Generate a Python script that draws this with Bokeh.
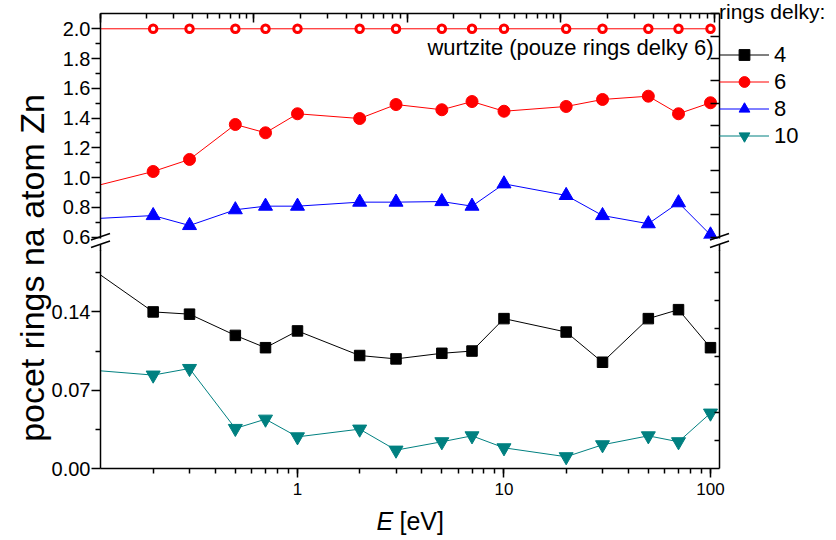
import math
from bokeh.plotting import figure
from bokeh.models import (Range1d, LogScale, LinearAxis, LogAxis, LogTicker, FixedTicker,
                          NumeralTickFormatter, CustomJSTickFormatter, Legend, LegendItem, Label)
from bokeh.layouts import row, column
from bokeh.embed import file_html
from bokeh.resources import INLINE

# ---------------- data ----------------
energy = [0.1, 0.2, 0.3, 0.5, 0.7, 1, 2, 3, 5, 7, 10, 20, 30, 50, 70, 100]
rings4 = [0.179, 0.140, 0.138, 0.119, 0.108, 0.123, 0.101, 0.098, 0.103, 0.105,
          0.134, 0.122, 0.095, 0.134, 0.142, 0.108]
rings6 = [0.936, 1.041, 1.122, 1.357, 1.301, 1.429, 1.397, 1.491, 1.456, 1.511,
          1.446, 1.478, 1.525, 1.547, 1.429, 1.503]
rings8 = [0.723, 0.745, 0.678, 0.784, 0.808, 0.808, 0.835, 0.835, 0.839, 0.808,
          0.958, 0.880, 0.745, 0.690, 0.831, 0.615]
rings10 = [0.088, 0.0835, 0.0894, 0.0358, 0.0441, 0.0283, 0.0352, 0.0164, 0.0239, 0.0292,
           0.0185, 0.0105, 0.0212, 0.0292, 0.0239, 0.0495]
wurtzite = [2.0, 2.0, 2.0, 2.0, 2.0, 2.0, 2.0, 2.0, 2.0, 2.0, 2.0, 2.0, 2.0, 2.0, 2.0, 2.0]

top_ticks = [0.6, 0.8, 1.0, 1.2, 1.4, 1.6, 1.8, 2.0]
top_minor = [0.7, 0.9, 1.1, 1.3, 1.5, 1.7, 1.9]
bot_ticks = [0.0, 0.07, 0.14]
bot_minor = [0.035, 0.105, 0.175]
right_top_ticks = [0.6, 0.75, 0.9, 1.05, 1.2, 1.35, 1.5, 1.65, 1.8, 1.95, 2.1]
right_bot_ticks = [0.025, 0.05, 0.075, 0.1, 0.125, 0.15, 0.175]

FONT = "Liberation Sans"
X_RANGE = (10 ** -0.954, 10 ** 2.0436)
TOP_Y = (0.5907, 2.1028)
BOT_Y = (0.0, 0.1949)
TOP_AX_RANGE = (1.0, 10 ** 4.0326)

W, H = 836, 540
FW = 619          # frame width  (page x 100..719)
TOP_FH = 225      # top frame    (page y 13..238)
BOT_FH = 218      # bottom frame (page y 250..468)
LEFT_B = 100
RIGHT_B = W - LEFT_B - FW
LEG_W, LEG_H = 117, 160

LOG0, LOG1 = math.log10(X_RANGE[0]), math.log10(X_RANGE[1])


def px2x(px):      # page px -> data x
    return 10 ** (LOG0 + (px - 100) / FW * (LOG1 - LOG0))


def py2top(py):    # page py -> top panel value
    return TOP_Y[1] - (py - 13) / TOP_FH * (TOP_Y[1] - TOP_Y[0])


blank = CustomJSTickFormatter(code="return ''")


def style_axis(ax, tout=0, mout=0, tin=0, min_=0, labels=True, size="20px"):
    ax.axis_line_color = "black"
    ax.axis_line_width = 1.5
    ax.major_tick_line_color = "black"
    ax.major_tick_line_width = 1.5
    ax.minor_tick_line_color = "black"
    ax.minor_tick_line_width = 1.5
    ax.major_tick_out = tout
    ax.minor_tick_out = mout
    ax.major_tick_in = tin
    ax.minor_tick_in = min_
    ax.major_label_text_color = "black"
    ax.major_label_text_font = FONT
    if labels:
        ax.major_label_text_font_size = size
    else:
        ax.major_label_text_font_size = "1px"
        ax.major_label_standoff = 0


def make_fig(yr, fh, top_b, bot_b):
    p = figure(frame_width=FW, frame_height=fh, x_axis_type=None, y_axis_type=None,
               x_range=Range1d(*X_RANGE), y_range=Range1d(*yr),
               toolbar_location=None, output_backend="svg",
               min_border_left=LEFT_B, min_border_right=RIGHT_B,
               min_border_top=top_b, min_border_bottom=bot_b,
               outline_line_color=None, background_fill_color="white",
               border_fill_color="white")
    p.x_scale = LogScale()
    return p


def overlay_fig(width, height, x0, x1, y_top, y_bot):
    """transparent figure laid over the page; data coordinates equal page pixels"""
    p = figure(frame_width=width, frame_height=height, x_axis_type=None, y_axis_type=None,
               x_range=Range1d(x0, x1), y_range=Range1d(y_bot, y_top),
               toolbar_location=None, output_backend="svg", min_border=0,
               outline_line_color=None)
    p.background_fill_alpha = 0
    p.border_fill_alpha = 0
    return p


# ---------------- top panel ----------------
pt = make_fig(TOP_Y, TOP_FH, 13, 12)
pt.extra_x_ranges = {"top": Range1d(*TOP_AX_RANGE)}
pt.extra_x_scales = {"top": LogScale()}

ax = LinearAxis(ticker=FixedTicker(ticks=top_ticks, minor_ticks=top_minor),
                formatter=NumeralTickFormatter(format="0.0"))
style_axis(ax, tout=9, mout=5)
ax.major_label_standoff = 1
pt.add_layout(ax, "left")

ax = LinearAxis(ticker=FixedTicker(ticks=right_top_ticks, minor_ticks=[]), formatter=blank)
style_axis(ax, tin=9, labels=False)
pt.add_layout(ax, "right")

ax = LogAxis(x_range_name="top", ticker=LogTicker(num_minor_ticks=10), formatter=blank)
style_axis(ax, tin=9, min_=5, labels=False)
pt.add_layout(ax, "above")

pt.line(energy, wurtzite, line_color="red", line_width=1)
pt.scatter(energy, wurtzite, marker="circle", size=7.5, fill_color="white",
           line_color="red", line_width=3)
pt.line(energy, rings6, line_color="red", line_width=1)
pt.scatter(energy, rings6, marker="circle", size=12, fill_color="red", line_color="red")
pt.line(energy, rings8, line_color="blue", line_width=1)
pt.scatter(energy, rings8, marker="triangle", size=14, fill_color="blue", line_color="blue")

pt.add_layout(Label(x=px2x(713), y=py2top(46.5), text="wurtzite (pouze rings delky 6)",
                    text_align="right", text_baseline="alphabetic",
                    text_font=FONT, text_font_size="22px", text_color="black"))

# ---------------- bottom panel ----------------
pb = make_fig(BOT_Y, BOT_FH, 0, 34)

ax = LinearAxis(ticker=FixedTicker(ticks=bot_ticks, minor_ticks=bot_minor),
                formatter=NumeralTickFormatter(format="0.00"))
style_axis(ax, tout=9, mout=5)
ax.major_label_standoff = 1
pb.add_layout(ax, "left")

ax = LinearAxis(ticker=FixedTicker(ticks=right_bot_ticks, minor_ticks=[]), formatter=blank)
style_axis(ax, tin=5, labels=False)
pb.add_layout(ax, "right")

ax = LogAxis(ticker=LogTicker(num_minor_ticks=10), formatter=NumeralTickFormatter(format="0"))
style_axis(ax, tout=9, mout=5, size="17px")
ax.major_label_standoff = 5
pb.add_layout(ax, "below")

pb.line(energy, rings4, line_color="black", line_width=1)
pb.scatter(energy, rings4, marker="square", size=10.5, fill_color="black", line_color="black")
pb.line(energy, rings10, line_color="#008080", line_width=1)
pb.scatter(energy, rings10, marker="inverted_triangle", size=14,
           fill_color="#008080", line_color="#008080")

# ---------------- page overlay: axis titles and axis-break marks ----------------
ov = overlay_fig(W, H, 0, W, 0, H)
ov.styles = {"margin-left": "-%dpx" % W}
bx0, bx1, by0, by1 = [], [], [], []
for cx in (100, 719):
    for (ya, yb) in ((239.5, 233.0), (247.0, 240.5)):
        bx0.append(cx - 9.5); by0.append(ya); bx1.append(cx + 9.5); by1.append(yb)
    bx0.append(cx); by0.append(243.75); bx1.append(cx); by1.append(250.5)
ov.segment(bx0, by0, bx1, by1, line_color="black", line_width=1.5)

ov.add_layout(Label(x=31, y=267.5, text="pocet rings na atom Zn", angle=math.pi / 2,
                    text_align="center", text_baseline="middle",
                    text_font=FONT, text_font_size="34px", text_color="black"))
ov.add_layout(Label(x=376, y=520.5, text="E", text_font_style="italic",
                    text_align="left", text_baseline="alphabetic",
                    text_font=FONT, text_font_size="25px", text_color="black"))
ov.add_layout(Label(x=399, y=520.5, text="[eV]",
                    text_align="left", text_baseline="alphabetic",
                    text_font=FONT, text_font_size="25px", text_color="black"))

# ---------------- legend overlay (top right corner) ----------------
lg = figure(frame_width=LEG_W, frame_height=LEG_H, x_axis_type=None, y_axis_type=None,
            x_range=Range1d(1000, 1001), y_range=Range1d(1000, 1001),
            toolbar_location=None, output_backend="svg", min_border=0,
            outline_line_color=None)
lg.background_fill_alpha = 0
lg.border_fill_alpha = 0
lg.styles = {"margin-left": "-%dpx" % LEG_W}
# series drawn again here (outside this box's range) only so that the legend can show them
l4 = lg.line(energy, rings4, line_color="black", line_width=1)
s4 = lg.scatter(energy, rings4, marker="square", size=10.5, fill_color="black", line_color="black")
l6 = lg.line(energy, rings6, line_color="red", line_width=1)
s6 = lg.scatter(energy, rings6, marker="circle", size=12, fill_color="red", line_color="red")
l8 = lg.line(energy, rings8, line_color="blue", line_width=1)
s8 = lg.scatter(energy, rings8, marker="triangle", size=14, fill_color="blue", line_color="blue")
l10 = lg.line(energy, rings10, line_color="#008080", line_width=1)
s10 = lg.scatter(energy, rings10, marker="inverted_triangle", size=14,
                 fill_color="#008080", line_color="#008080")

legend = Legend(items=[LegendItem(label="4", renderers=[l4, s4]),
                       LegendItem(label="6", renderers=[l6, s6]),
                       LegendItem(label="8", renderers=[l8, s8]),
                       LegendItem(label="10", renderers=[l10, s10])],
                title="rings delky:", location="top_left")
legend.glyph_width = 50
legend.glyph_height = 27
legend.label_height = 20
legend.label_standoff = 5
legend.spacing = 0
legend.padding = 2
legend.margin = 0
legend.border_line_color = None
legend.background_fill_alpha = 0
legend.label_text_font = FONT
legend.label_text_font_size = "22px"
legend.label_text_color = "black"
legend.title_text_font = FONT
legend.title_text_font_size = "21px"
legend.title_text_font_style = "normal"
legend.title_text_color = "black"
legend.title_standoff = 17
lg.add_layout(legend)

layout = row(column(pt, pb), ov, lg)
open("out.html", "w").write(file_html(layout, INLINE))
